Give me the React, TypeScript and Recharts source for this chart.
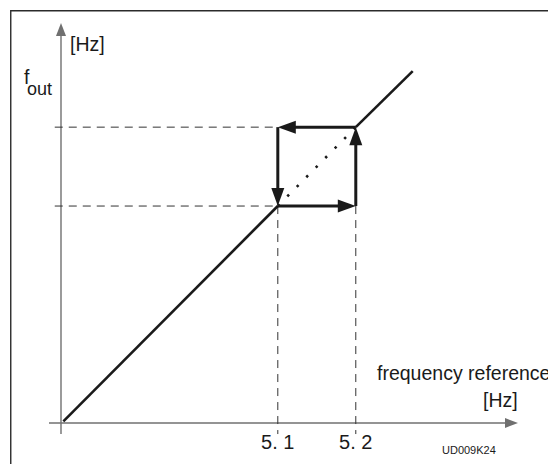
import React from "react";
import { LineChart, Line, XAxis, YAxis, ReferenceLine } from "recharts";

// frequency reference / output frequency, in Hz (diagram is not to scale)
const hzTicks = [5.1, 5.2];
const riseLine = [
  { ref: 4.825, out: 4.827 },
  { ref: 5.1, out: 5.1 },
];
const bypassedLine = [
  { ref: 5.1, out: 5.1 },
  { ref: 5.2, out: 5.2 },
];
const upperLine = [
  { ref: 5.2, out: 5.2 },
  { ref: 5.273, out: 5.271 },
];

// hysteresis loop: 5.2 -> 5.1 at top, down, 5.1 -> 5.2 at bottom, up
const loopArrows = [
  [{ x: 5.2, y: 5.2 }, { x: 5.1, y: 5.2 }],
  [{ x: 5.1, y: 5.2 }, { x: 5.1, y: 5.1 }],
  [{ x: 5.1, y: 5.1 }, { x: 5.2, y: 5.1 }],
  [{ x: 5.2, y: 5.1 }, { x: 5.2, y: 5.2 }],
];

const guideLines = [
  [{ x: 4.814, y: 5.2 }, { x: 5.1, y: 5.2 }],
  [{ x: 4.814, y: 5.1 }, { x: 5.1, y: 5.1 }],
  [{ x: 5.1, y: 5.1 }, { x: 5.1, y: 4.811 }],
  [{ x: 5.2, y: 5.1 }, { x: 5.2, y: 4.811 }],
];

const X_MIN = 4.822;
const X_MAX = 5.408;
const Y_MIN = 4.825;
const Y_MAX = 5.332;

const FONT = "'Liberation Sans', Arial, Helvetica, sans-serif";
const INK = "#1a1a1a";
const AXIS = "#707070";

function arrowShape(len: number, half: number, color: string, width: number) {
  return (p: any) => {
    const { x1, y1, x2, y2 } = p;
    const dx = x2 - x1;
    const dy = y2 - y1;
    const d = Math.hypot(dx, dy) || 1;
    const ux = dx / d;
    const uy = dy / d;
    const bx = x2 - ux * len;
    const by = y2 - uy * len;
    const px = -uy;
    const py = ux;
    return (
      <g>
        <line x1={x1} y1={y1} x2={bx + ux} y2={by + uy} stroke={color} strokeWidth={width} />
        <polygon
          points={`${x2},${y2} ${bx + px * half},${by + py * half} ${bx - px * half},${by - py * half}`}
          fill={color}
        />
      </g>
    );
  };
}

export default function App() {
  return (
    <div style={{ position: "absolute", left: 0, top: 0, width: 548, height: 464, background: "#fff", overflow: "hidden" }}>
      <LineChart
        width={548}
        height={464}
        margin={{ top: 23, right: 30, left: 61, bottom: 11 }}
      >
        <XAxis
          type="number"
          dataKey="ref"
          domain={[X_MIN, X_MAX]}
          allowDataOverflow
          ticks={hzTicks}
          interval={0}
          height={30}
          axisLine={false}
          tickLine={false}
          tickSize={6}
          tickMargin={6}
          tickFormatter={(v: number) => v.toFixed(1).replace(".", ". ")}
          tick={{ fontSize: 20, fill: INK, fontFamily: FONT }}
        />
        <YAxis type="number" dataKey="out" domain={[Y_MIN, Y_MAX]} allowDataOverflow hide />

        {/* frame */}
        <path d="M10.75 480 V10.75 H560" fill="none" stroke="#2b2b2b" strokeWidth={1.4} />

        {/* axes with arrow tips */}
        <ReferenceLine
          segment={[{ x: X_MIN, y: 4.811 }, { x: X_MIN, y: Y_MAX }]}
          ifOverflow="visible"
          shape={arrowShape(13, 5, AXIS, 1.4)}
        />
        <ReferenceLine
          segment={[{ x: 4.8066, y: Y_MIN }, { x: X_MAX, y: Y_MIN }]}
          ifOverflow="visible"
          shape={arrowShape(13, 5, AXIS, 1.4)}
        />

        {guideLines.map((s, i) => (
          <ReferenceLine
            key={`g${i}`}
            segment={s}
            ifOverflow="visible"
            stroke="#333"
            strokeWidth={1}
            strokeDasharray="8 6"
          />
        ))}

        <Line
          data={riseLine}
          dataKey="out"
          stroke={INK}
          strokeWidth={2.6}
          dot={false}
          activeDot={false}
          isAnimationActive={false}
        />
        <Line
          data={bypassedLine}
          dataKey="out"
          stroke={INK}
          strokeWidth={2.6}
          strokeDasharray="2.5 11"
          dot={false}
          activeDot={false}
          isAnimationActive={false}
        />
        <Line
          data={upperLine}
          dataKey="out"
          stroke={INK}
          strokeWidth={2.6}
          dot={false}
          activeDot={false}
          isAnimationActive={false}
        />

        {loopArrows.map((s, i) => (
          <ReferenceLine
            key={`a${i}`}
            segment={s}
            ifOverflow="visible"
            shape={arrowShape(18, 6.5, INK, 3)}
          />
        ))}

        <text x={70} y={51} fontSize={19.5} fill={INK} fontFamily={FONT}>[Hz]</text>
        <text x={24} y={84} fontSize={19.5} fill={INK} fontFamily={FONT}>
          f<tspan dx={-2.5} dy={11} fontSize={18}>out</tspan>
        </text>
        <text x={377} y={380} fontSize={19.5} fill={INK} fontFamily={FONT}>frequency reference</text>
        <text x={483} y={407} fontSize={19.5} fill={INK} fontFamily={FONT}>[Hz]</text>
        <text x={442} y={454} fontSize={11} fill={INK} fontFamily={FONT}>UD009K24</text>
      </LineChart>
    </div>
  );
}
